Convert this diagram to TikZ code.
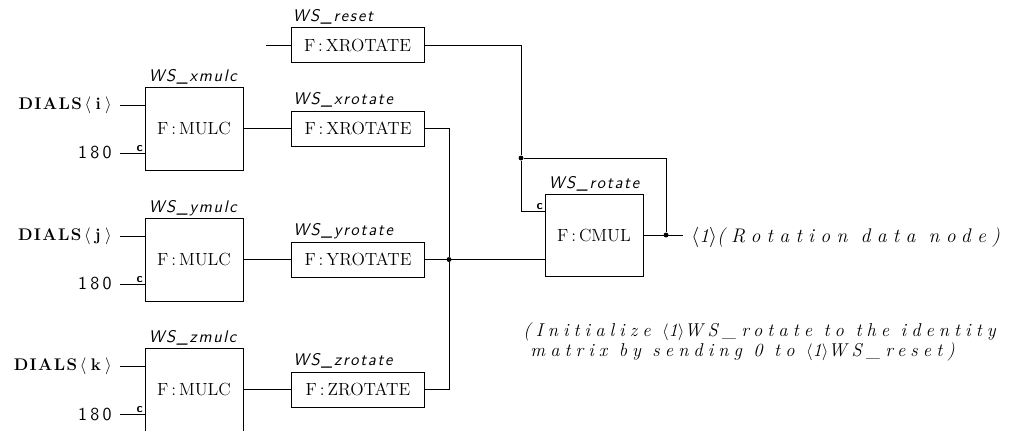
\documentclass[tikz,border=0pt]{standalone}
\usepackage{fontspec}
\usepackage{amsmath}
\usetikzlibrary{calc}
\setmainfont{Latin Modern Roman}
\setsansfont{Latin Modern Sans}

\newcommand\fbfont{\fontsize{12.5}{14}\selectfont}
\newcommand\wsfont{\sffamily\itshape\fontsize{12}{13}\selectfont\addfontfeatures{LetterSpace=10}}
\newcommand\notefont{\itshape\fontsize{13.2}{14.2}\selectfont\addfontfeatures{LetterSpace=27}}
\newcommand\outfont{\itshape\fontsize{14}{14}\selectfont\addfontfeatures{LetterSpace=32}}
\newcommand\dialfont{\bfseries\fontsize{12}{14}\selectfont\addfontfeatures{LetterSpace=8}}
\newcommand\numfont{\sffamily\fontsize{13}{14}\selectfont\addfontfeatures{LetterSpace=18}}

\begin{document}
\begin{tikzpicture}[x=0.025cm, y=-0.025cm, line width=0.6pt]
        \tikzset{fbox/.style={draw, font=\fbfont, inner sep=0pt},
                 mulcbox/.style={fbox, minimum width=2.45cm, minimum height=2.075cm},
                 rotbox/.style={fbox, minimum width=3.325cm, minimum height=0.875cm},
                 wslabel/.style={font=\wsfont, anchor=base west, inner sep=0pt},
                 inlabel/.style={anchor=east, inner xsep=0.2cm, inner ysep=0pt},
                 clabel/.style={font=\sffamily\bfseries\small, anchor=south east, inner sep=1pt},
                 junction/.style={circle, fill, inner sep=0pt, minimum size=3.5pt}}
        \clip (0,0) rectangle (1010,430);

        % MULC boxes
        \node[mulcbox] (mx) at (194,128.5) {F\,:\,MULC};
        \node[mulcbox] (my) at (194,259.5) {F\,:\,MULC};
        \node[mulcbox] (mz) at (194,389.5) {F\,:\,MULC};
        \node[wslabel] (lmx) at ($(mx.north west)+(4,-5)$) {WS\_xmulc};
        \node[wslabel] (lmy) at ($(my.north west)+(4,-5)$) {WS\_ymulc};
        \node[wslabel] (lmz) at ($(mz.north west)+(4,-5)$) {WS\_zmulc};

        % dial inputs and constants
        \node[inlabel, font=\dialfont] (di) at (120,105) {DIALS\kern2pt$\langle$\kern3pt i\kern3pt$\rangle$};
        \node[inlabel, font=\dialfont] (dj) at (120,236) {DIALS\kern2pt$\langle$\kern3pt j\kern3pt$\rangle$};
        \node[inlabel, font=\dialfont] (dk) at (120,366) {DIALS\kern2pt$\langle$\kern3pt k\kern3pt$\rangle$};
        \node[inlabel, font=\numfont] (ci) at (120,153) {180};
        \node[inlabel, font=\numfont] (cj) at (120,284) {180};
        \node[inlabel, font=\numfont] (ck) at (120,414) {180};
        \draw (di.east) -- (di.east -| mx.west);
        \draw (dj.east) -- (dj.east -| my.west);
        \draw (dk.east) -- (dk.east -| mz.west);
        \draw (ci.east) -- (ci.east -| mx.west);
        \draw (cj.east) -- (cj.east -| my.west);
        \draw (ck.east) -- (ck.east -| mz.west);
        \node[clabel] (cx) at (ci.east -| mx.west) {c};
        \node[clabel] (cy) at (cj.east -| my.west) {c};
        \node[clabel] (cz) at (ck.east -| mz.west) {c};

        % rotate boxes
        \node[rotbox] (rr) at (357.5,45) {F\,:\,XROTATE};
        \node[rotbox] (rx) at (358,128.5) {F\,:\,XROTATE};
        \node[rotbox] (ry) at (358,259.5) {F\,:\,YROTATE};
        \node[rotbox] (rz) at (358,389.5) {F\,:\,ZROTATE};
        \node[wslabel] (lrr) at ($(rr.north west)+(2,-6)$) {WS\_reset};
        \node[wslabel] (lrx) at ($(rx.north west)+(2,-6)$) {WS\_xrotate};
        \node[wslabel] (lry) at ($(ry.north west)+(2,-6)$) {WS\_yrotate};
        \node[wslabel] (lrz) at ($(rz.north west)+(2,-6)$) {WS\_zrotate};
        \coordinate (rin) at (266,45);
        \draw (rin) -- (rr);
        \draw (mx) -- (rx);
        \draw (my) -- (ry);
        \draw (mz) -- (rz);

        % CMUL and wiring
        \node[mulcbox, minimum height=2.05cm] (cm) at (594,235) {F\,:\,CMUL};
        \node[wslabel] (lcm) at ($(cm.north west)+(4,-5)$) {WS\_rotate};
        \node[junction] (jy) at (449,259.5) {};
        \node[junction] (jr) at (521,158) {};
        \node[junction] (jo) at (666,235) {};
        \coordinate (cin) at ($(cm.north west)+(0,18)$);
        \draw (rx.east) -| (jy) |- (rz.east);
        \draw (ry.east) -- (cm.west |- ry.east);
        \draw (rr.east) -| (jr) |- (cin);
        \draw (jr) -| (jo);
        \node[clabel] (cc) at (cin) {c};

        \node[font=\outfont, anchor=west, inner xsep=0.2cm, inner ysep=0pt] (out) at (683,237)
            {$\langle$\textit{1}$\rangle$(Rotation data node)};
        \draw (cm.east) -- (out.west |- cm.east);

        \node[font=\notefont, anchor=north west, align=left, inner sep=0pt] (note) at (523,322)
            {(Initialize $\langle$\textit{1}$\rangle$WS\_rotate to the identity\\
             \hspace{5pt}matrix by sending 0 to $\langle$\textit{1}$\rangle$WS\_reset)};
\end{tikzpicture}
\end{document}
